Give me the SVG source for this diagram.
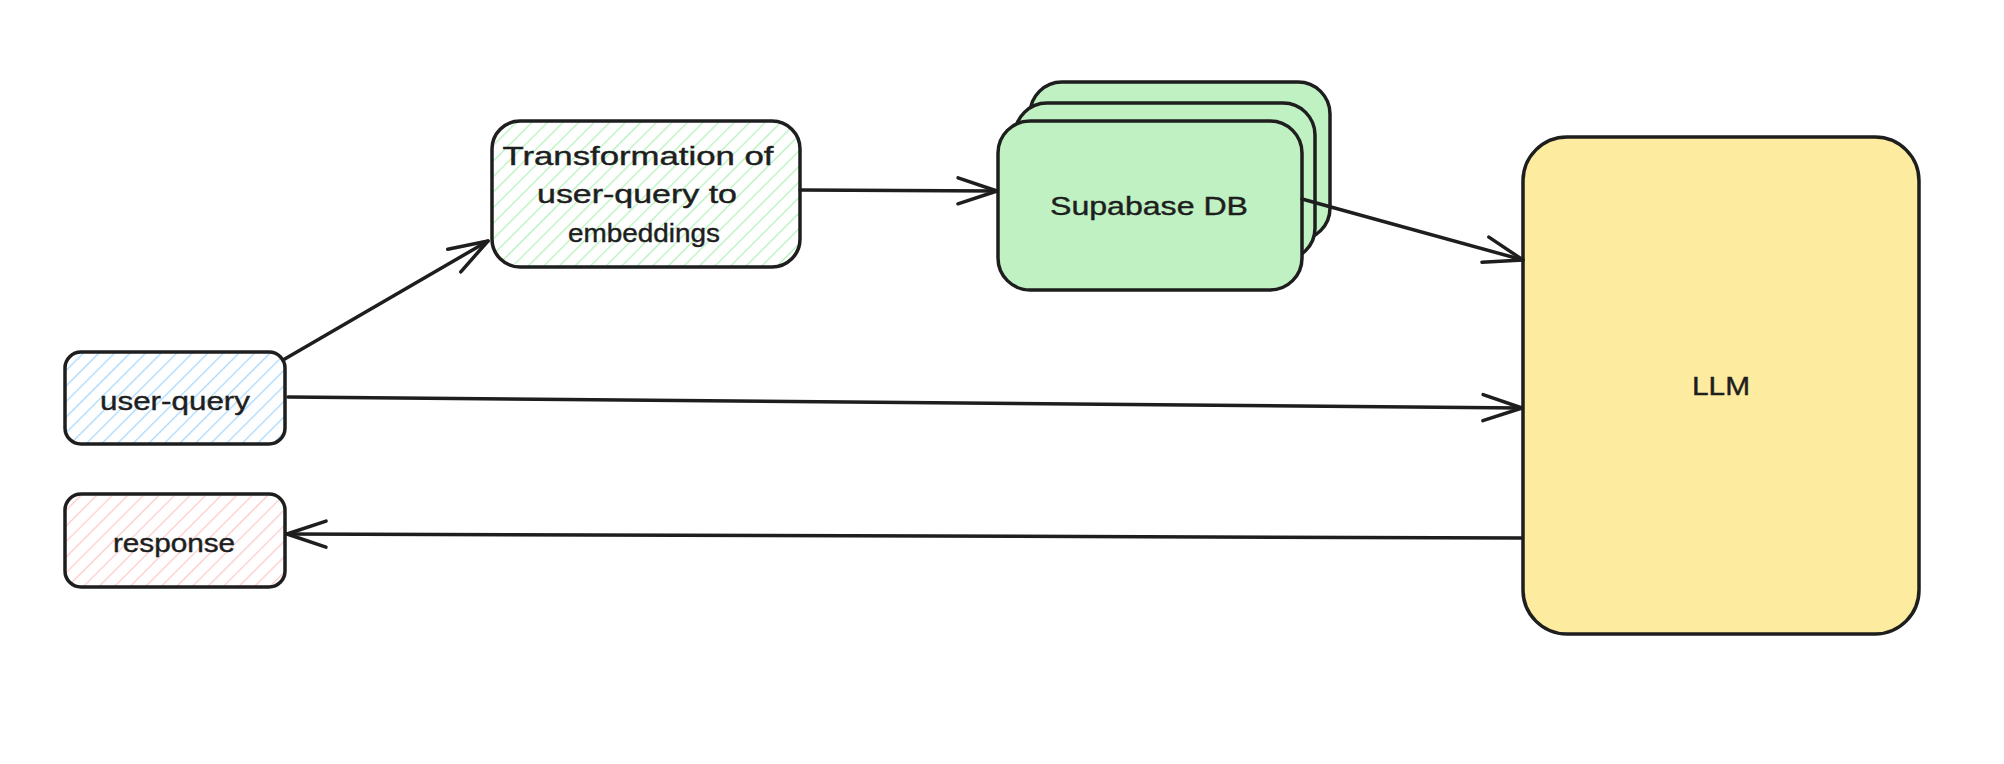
<svg xmlns="http://www.w3.org/2000/svg" width="2004" height="764" viewBox="0 0 2004 764">
<style>
.box{stroke:#1e1e1e;stroke-width:3.5;}
.lbl{font-family:"Liberation Sans",Arial,sans-serif;font-size:25px;fill:#1e1e1e;text-anchor:middle;stroke:#1e1e1e;stroke-width:0.4;}
.conn{fill:none;stroke:#1e1e1e;stroke-width:3.5;stroke-linecap:round;}
</style>
<defs>
<pattern id="hBlue" width="11" height="11" patternUnits="userSpaceOnUse" patternTransform="rotate(45)"><line x1="0" y1="0" x2="0" y2="11" stroke="#a5d8ff" stroke-width="2.5"/></pattern>
<pattern id="hRed" width="11" height="11" patternUnits="userSpaceOnUse" patternTransform="rotate(45)"><line x1="0" y1="0" x2="0" y2="11" stroke="#ffc9c9" stroke-width="2.5"/></pattern>
<pattern id="hGreen" width="11" height="11" patternUnits="userSpaceOnUse" patternTransform="rotate(45)"><line x1="0" y1="0" x2="0" y2="11" stroke="#b2f2bb" stroke-width="2.5"/></pattern>
<marker id="arr" markerUnits="userSpaceOnUse" viewBox="-44 -18 48 36" markerWidth="48" markerHeight="36" refX="0" refY="0" orient="auto" overflow="visible">
<path d="M -39 -13 L 0 0 L -39 13" fill="none" stroke="#1e1e1e" stroke-width="3.5" stroke-linecap="round" stroke-linejoin="round"/>
</marker>
</defs>
<rect width="2004" height="764" fill="#ffffff"/>

<g id="node-user-query">
<rect class="box" x="65" y="352" width="220" height="92" rx="16" fill="url(#hBlue)"/>
<text class="lbl" x="175" y="410" textLength="150" lengthAdjust="spacingAndGlyphs">user-query</text>
</g>

<g id="node-response">
<rect class="box" x="65" y="494" width="220" height="93" rx="16" fill="url(#hRed)"/>
<text class="lbl" x="174" y="552" textLength="122" lengthAdjust="spacingAndGlyphs">response</text>
</g>

<g id="node-transformation">
<rect class="box" x="492" y="121" width="308" height="146" rx="28" fill="url(#hGreen)"/>
<text class="lbl" x="638" y="165" textLength="271" lengthAdjust="spacingAndGlyphs">Transformation of</text>
<text class="lbl" x="637" y="203" textLength="200" lengthAdjust="spacingAndGlyphs">user-query to</text>
<text class="lbl" x="644" y="242" textLength="152" lengthAdjust="spacingAndGlyphs">embeddings</text>
</g>

<g id="node-supabase">
<rect class="box" x="1030" y="82" width="300" height="158" rx="32" fill="#c0f1c3"/>
<rect class="box" x="1015" y="103" width="300" height="157" rx="32" fill="#c0f1c3"/>
<rect class="box" x="998" y="121" width="304" height="169" rx="32" fill="#c0f1c3"/>
<text class="lbl" x="1149" y="215" textLength="198" lengthAdjust="spacingAndGlyphs">Supabase DB</text>
</g>

<g id="node-llm">
<rect class="box" x="1523" y="137" width="396" height="497" rx="44" fill="#fdeca0"/>
<text class="lbl" x="1721" y="395" textLength="58" lengthAdjust="spacingAndGlyphs">LLM</text>
</g>

<g id="connectors">
<line class="conn" x1="283" y1="360" x2="488" y2="241" marker-end="url(#arr)"/>
<line class="conn" x1="800" y1="190" x2="997" y2="191" marker-end="url(#arr)"/>
<line class="conn" x1="1302" y1="199" x2="1523" y2="260" marker-end="url(#arr)"/>
<line class="conn" x1="288" y1="397" x2="1522" y2="408" marker-end="url(#arr)"/>
<line class="conn" x1="1522" y1="538" x2="287" y2="534" marker-end="url(#arr)"/>
</g>
</svg>
